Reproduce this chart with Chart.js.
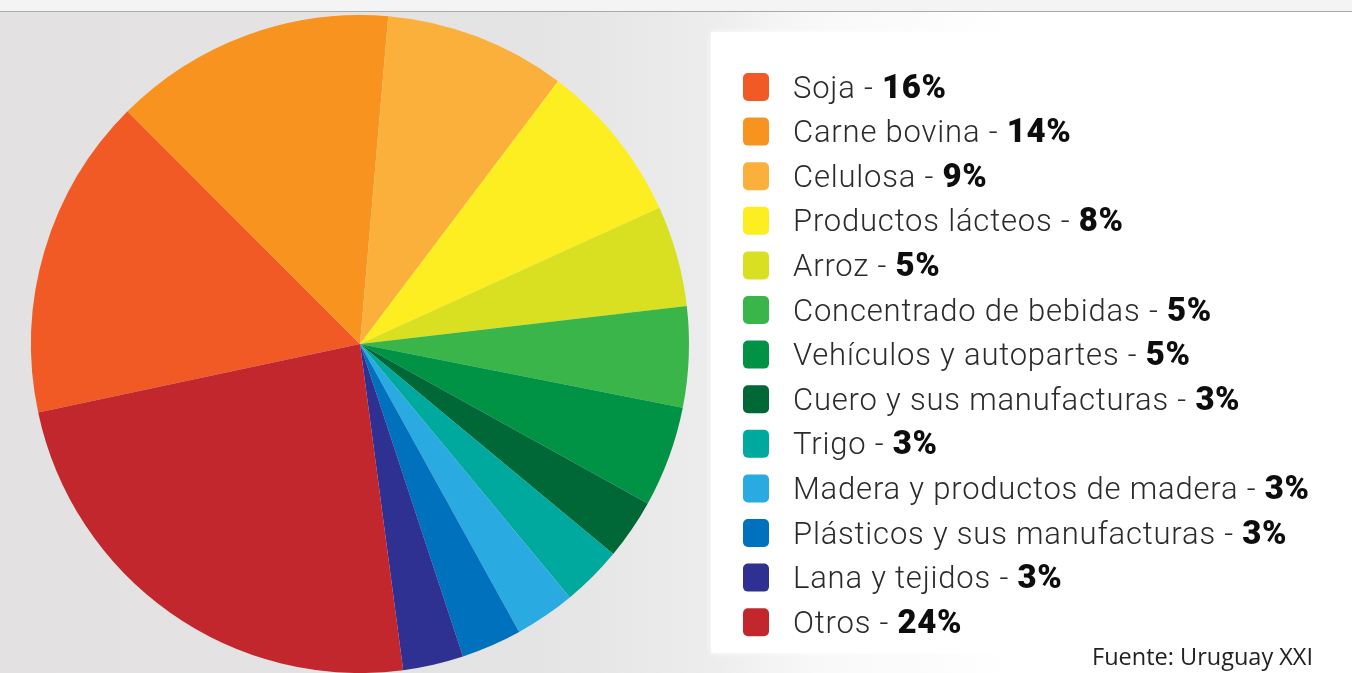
<!DOCTYPE html>
<html lang="es">
<head>
<meta charset="utf-8">
<title>Exportaciones de Uruguay por producto</title>
<script src="https://cdn.jsdelivr.net/npm/chart.js@4/dist/chart.umd.min.js"></script>
<style>
  html, body { margin: 0; padding: 0; overflow: hidden; }
  body {
    width: 1352px; height: 673px; position: relative;
    background: #f4f4f4;
  }
  #fondo {
    position: absolute; left: 0; top: 11px; width: 1352px; height: 662px;
    border-top: 1px solid #a9a9a9;
    background: linear-gradient(90deg, #e3e1e1 0%, #e5e4e4 40%, #ececec 52%, #f8f8f8 60%, #ffffff 75%);
  }
  #caja {
    position: absolute; left: 711px; top: 32px; width: 641px; height: 621px;
    background: #ffffff;
    box-shadow: 0 0 6px rgba(255,255,255,0.9);
  }
  #grafico { position: absolute; left: 0; top: 0; }
</style>
</head>
<body>
<div id="fondo"></div>
<div id="caja"></div>
<canvas id="grafico" width="1352" height="673"></canvas>
<script>
// Exportaciones por producto (% del total)
const productos = [
  "Soja", "Carne bovina", "Celulosa", "Productos lácteos", "Arroz",
  "Concentrado de bebidas", "Vehículos y autopartes", "Cuero y sus manufacturas",
  "Trigo", "Madera y productos de madera", "Plásticos y sus manufacturas",
  "Lana y tejidos", "Otros"
];
const porcentajes = [16, 14, 9, 8, 5, 5, 5, 3, 3, 3, 3, 3, 24];
const colores = [
  "#f15a24", "#f7931e", "#fbb03b", "#fcee21", "#d9e021",
  "#39b54a", "#009245", "#006837", "#00a99d", "#29abe2",
  "#0071bc", "#2e3192", "#c1272d"
];
const fuente = "Fuente: Uruguay XXI";

// Leyenda dibujada a mano: cuadro de color, nombre en fina y porcentaje en negrita
const leyendaPlugin = {
  id: "leyendaManual",
  afterDraw(chart) {
    const ctx = chart.ctx;
    const x0 = 743, y0 = 73, paso = 44.6;
    ctx.save();
    ctx.textBaseline = "alphabetic";
    chart.data.labels.forEach((nombre, i) => {
      const y = y0 + i * paso;
      ctx.fillStyle = colores[i];
      ctx.beginPath();
      ctx.roundRect(x0, y, 26, 28, 5);
      ctx.fill();

      const base = y + 24.5;
      const texto = nombre + " - ";
      ctx.font = "300 31px Roboto";
      ctx.letterSpacing = "0.8px";
      ctx.fillStyle = "#2b2b2b";
      ctx.fillText(texto, 793, base);
      const w = ctx.measureText(texto).width;
      ctx.font = "900 33px Roboto";
      ctx.letterSpacing = "0.6px";
      ctx.fillStyle = "#0d0d0d";
      ctx.fillText(chart.data.datasets[0].data[i] + "%", 793 + w, base);
    });
    ctx.letterSpacing = "0px";
    ctx.font = "23.5px 'Open Sans'";
    ctx.fillStyle = "#222222";
    ctx.textAlign = "right";
    ctx.fillText(fuente, 1313, 665);
    ctx.restore();
  }
};

new Chart(document.getElementById("grafico"), {
  type: "pie",
  data: {
    labels: productos,
    datasets: [{
      data: porcentajes,
      backgroundColor: colores,
      borderWidth: 0,
      hoverOffset: 0
    }]
  },
  options: {
    responsive: false,
    animation: false,
    rotation: 258,
    layout: { padding: { left: 30, top: 15, right: 662, bottom: 0 } },
    plugins: {
      legend: { display: false },
      tooltip: { enabled: false }
    }
  },
  plugins: [leyendaPlugin]
});
</script>
</body>
</html>
